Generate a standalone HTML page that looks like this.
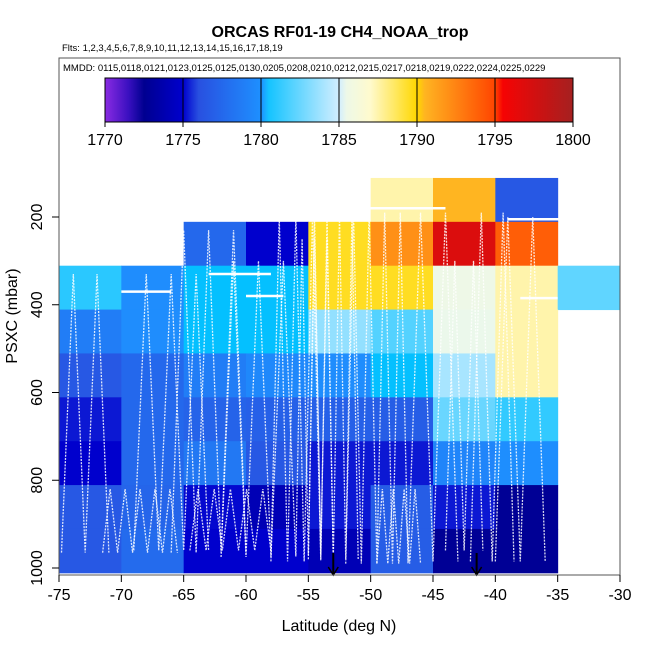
<!DOCTYPE html>
<html><head><meta charset="utf-8">
<style>
body{margin:0;background:#fff;}
svg text{font-family:"Liberation Sans",Arial,sans-serif;}
</style></head>
<body>
<svg id="chart" width="650" height="650" viewBox="0 0 650 650" xmlns="http://www.w3.org/2000/svg">
<text x="340" y="37" text-anchor="middle" font-size="16" font-weight="bold">ORCAS RF01-19 CH4_NOAA_trop</text>
<text x="62" y="51" font-size="9.5">Flts: 1,2,3,4,5,6,7,8,9,10,11,12,13,14,15,16,17,18,19</text>
<g id="cells"></g>
<g id="tracks"></g>
<g id="arrows"></g>
<rect x="59" y="58" width="561" height="96" fill="#fff"/>
<text x="63" y="71" font-size="9.5">MMDD: 0115,0118,0121,0123,0125,0125,0130,0205,0208,0210,0212,0215,0217,0218,0219,0222,0224,0225,0229</text>
<g id="cbar"></g>
<rect x="59" y="58" width="561" height="517" fill="none" stroke="#555" stroke-width="1"/>
<g id="axes"></g>
<text x="339" y="631" text-anchor="middle" font-size="16">Latitude (deg N)</text>
<text x="0" y="0" transform="translate(17,316) rotate(-90)" text-anchor="middle" font-size="16">PSXC (mbar)</text>
</svg>
<script>
const latEdges=[-75,-70,-65,-60,-55,-50,-45,-40,-35,-30];
const presEdges=[111,211,311,411,511,611,711,811,911,1011];
const ch4Rows=[
[null,null,null,null,null,1787.5,1790.5,1776.5,null],
[null,null,1777.5,1775,1789.5,1792,1797,1794,null],
[1781,1779.8,1780.1,1780.1,1789.5,1789.5,1785.5,1787.5,1782.3],
[1778.8,1779.8,1780.1,1780.1,1783.5,1782,1785.3,1787.5,null],
[1776.5,1777.5,1778.8,1779.5,1779.8,1780.1,1784,1787.5,null],
[1775.3,1777.5,1777.2,1777,1777,1776.8,1782.5,1781.2,null],
[1775,1777.5,1778.5,1776.5,1775.3,1775.3,1779.3,1779.9,null],
[1776.5,1777.3,1775.1,1774,1775.3,1776.8,1775.3,1772.7,null],
[1776.5,1777.7,1775,1775,1774,1776.8,1772.7,1772.7,null]];
const xTicks=[-75,-70,-65,-60,-55,-50,-45,-40,-35,-30];
const yTicks=[200,400,600,800,1000];
const cbTicks=[1770,1775,1780,1785,1790,1795,1800];
const arrowLats=[-53,-41.5];
// decorative flight profiles: [latStart, latEnd, pBottom, pTop, legs]
const profiles=[
[-74.8,-71,965,330,4],[-71.5,-65.5,965,820,10],[-69,-63,960,330,6],[-66,-60,965,230,6],
[-64.5,-58,960,820,10],[-62,-56,975,300,6],[-58,-54,985,200,6],[-56,-53,970,250,6],
[-55,-51,980,200,8],[-52,-47,990,190,8],[-49.5,-46,990,820,8],[-47,-43,985,190,4],
[-44,-41,960,300,4],[-42,-38.5,985,190,4],[-40,-36,985,200,4]];
const flatLegs=[[-63,-58,330],[-51,-44,180],[-39,-33,205],[-38,-35,385],[-60,-57,380],[-70,-66,370]];

const X=v=>59+(v+75)*561/45;
const Y=p=>217+(p-200)*351/800;
const CB=v=>105+(v-1770)*468/30;
const stops=[[1770,[138,43,226]],[1771.5,[58,16,192]],[1772.5,[0,0,144]],[1775,[0,0,205]],[1776,[40,80,224]],[1780,[30,144,255]],[1780.01,[0,191,255]],[1785,[210,238,255]],[1785.01,[232,248,240]],[1787,[255,250,205]],[1790,[255,215,0]],[1790.01,[255,193,37]],[1795,[255,69,0]],[1795.01,[255,0,0]],[1800,[165,32,32]]];
function col(v){for(let i=0;i<stops.length-1;i++){const a=stops[i],b=stops[i+1];if(v<=b[0]){const t=(v-a[0])/(b[0]-a[0]);return 'rgb('+a[1].map((c,k)=>Math.round(c+(b[1][k]-c)*t)).join(',')+')';}}return 'rgb(165,32,32)';}
const NS='http://www.w3.org/2000/svg';
function mk(tag,attrs,parent){const e=document.createElementNS(NS,tag);for(const k in attrs)e.setAttribute(k,attrs[k]);parent.appendChild(e);return e;}
const cells=document.getElementById('cells');
ch4Rows.forEach((row,r)=>row.forEach((v,c)=>{if(v===null)return;
const x0=X(latEdges[c]),x1=X(latEdges[c+1]),y0=Y(presEdges[r]),y1=Y(presEdges[r+1]);
const e=mk('rect',{x:x0,y:y0,width:x1-x0+0.5,height:y1-y0+0.5,fill:col(v)},cells);

}));
const tr=document.getElementById('tracks');
profiles.forEach(p=>{const[l0,l1,pb,pt,n]=p;let pts=[];for(let i=0;i<=n;i++){const lat=l0+(l1-l0)*i/n;pts.push(X(lat)+','+Y(i%2?pt:pb));}
const e=mk('polyline',{points:pts.join(' '),fill:'none',stroke:'#fff','stroke-width':1.3,'stroke-dasharray':'2,1.2',opacity:0.85},tr);

});
flatLegs.forEach(f=>{const e=mk('line',{x1:X(f[0]),x2:X(f[1]),y1:Y(f[2]),y2:Y(f[2]),stroke:'#fff','stroke-width':2.5},tr);

});
const ar=document.getElementById('arrows');
arrowLats.forEach(l=>{const x=X(l);const g=mk('g',{},ar);


mk('line',{x1:x,x2:x,y1:553,y2:575,stroke:'#000','stroke-width':2},g);
mk('polyline',{points:(x-5)+',567 '+x+',575 '+(x+5)+',567',fill:'none',stroke:'#000','stroke-width':1.5},g);});
const cb=document.getElementById('cbar');
const grad=mk('linearGradient',{id:'cg',x1:0,x2:1,y1:0,y2:0},mk('defs',{},cb));
for(let v=1770;v<=1800;v+=0.5){mk('stop',{offset:((v-1770)/30),'stop-color':col(v)},grad);}
const bar=mk('rect',{x:CB(1770),y:78,width:CB(1800)-CB(1770),height:44,fill:'url(#cg)',stroke:'#000','stroke-width':1},cb);


cbTicks.forEach(v=>{const x=CB(v);mk('line',{x1:x,x2:x,y1:78,y2:127,stroke:'#000','stroke-width':1},cb);
const t=mk('text',{x:x,y:145,'text-anchor':'middle','font-size':16},cb);t.textContent=v;

});
const ax=document.getElementById('axes');
xTicks.forEach(v=>{const x=X(v);mk('line',{x1:x,x2:x,y1:575,y2:582,stroke:'#000'},ax);
const t=mk('text',{x:x,y:600,'text-anchor':'middle','font-size':16},ax);t.textContent=v;

});
yTicks.forEach(v=>{const y=Y(v);mk('line',{x1:52,x2:59,y1:y,y2:y,stroke:'#000'},ax);
const t=mk('text',{x:0,y:0,transform:'translate(42,'+y+') rotate(-90)','text-anchor':'middle','font-size':16},ax);t.textContent=v;

});
</script>
</body></html>
